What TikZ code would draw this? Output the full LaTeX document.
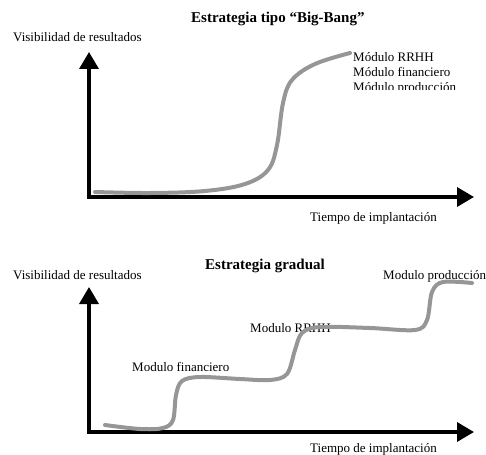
\documentclass[tikz,border=0pt]{standalone}
\usepackage{fontspec}
\setmainfont{Liberation Serif}
\usetikzlibrary{arrows.meta}
\definecolor{curvegray}{RGB}{150,150,150}
\tikzset{
  axis/.style={line width=3.5pt,-{Triangle[width=19pt,length=17pt]}},
  curve/.style={curvegray,line width=4pt,line cap=round},
  lbl/.style={anchor=base west,inner sep=0pt,font=\fontsize{13}{15}\selectfont},
  ttl/.style={anchor=base west,inner sep=0pt,font=\fontsize{15}{17}\selectfont\bfseries}
}
\begin{document}
\begin{tikzpicture}[x=1pt,y=-1pt]
\useasboundingbox (0,0) rectangle (486,454);

% ---- upper chart: big-bang strategy ----
\node[ttl] (t1) at (191,23) {Estrategia tipo “Big-Bang”};
\node[lbl] (v1) at (13,42) {Visibilidad de resultados};
\coordinate (o1) at (89,197);
\coordinate (y1) at (89,52);
\coordinate (x1) at (474,197);
\draw[axis] (o1) ++(0,1.75) -- (y1);
\draw[axis] (o1) ++(-1.75,0) -- (x1);
\node[lbl] (h1) at (310,221) {Tiempo de implantación};
\draw[curve] plot[smooth,tension=0.6] coordinates {(95,192) (150,193) (205,191) (245,184) (268,170) (277,145) (283,103) (292,80) (315,64) (350,53)};
\node[lbl] (m1) at (353,62) {Módulo RRHH};
\node[lbl] (m2) at (353,77) {Módulo financiero};
\begin{scope}
  \clip (340,80) rectangle (486,89.5);
  \node[lbl] (m3) at (353,92) {Módulo producción};
\end{scope}

% ---- lower chart: gradual strategy ----
\node[ttl] (t2) at (205,269) {Estrategia gradual};
\node[lbl] (v2) at (13,279) {Visibilidad de resultados};
\node[lbl] (p2) at (383,279) {Modulo producción};
\node[lbl] (r2) at (250,332) {Modulo RRHH};
\node[lbl] (f2) at (132,371) {Modulo financiero};
\coordinate (o2) at (89,432);
\coordinate (y2) at (89,287);
\coordinate (x2) at (474,432);
\draw[axis] (o2) ++(0,1.75) -- (y2);
\draw[axis] (o2) ++(-1.75,0) -- (x2);
\node[lbl] (h2) at (310,452) {Tiempo de implantación};
\draw[curve] plot[smooth,tension=0.55] coordinates {(105,425) (140,429) (163,428) (173,420) (176,395) (182,381) (200,377) (240,379) (270,380) (287,374) (295,350) (302,333) (320,327) (370,328) (415,330) (427,320) (432,292) (443,282) (472,283)};
\end{tikzpicture}
\end{document}
